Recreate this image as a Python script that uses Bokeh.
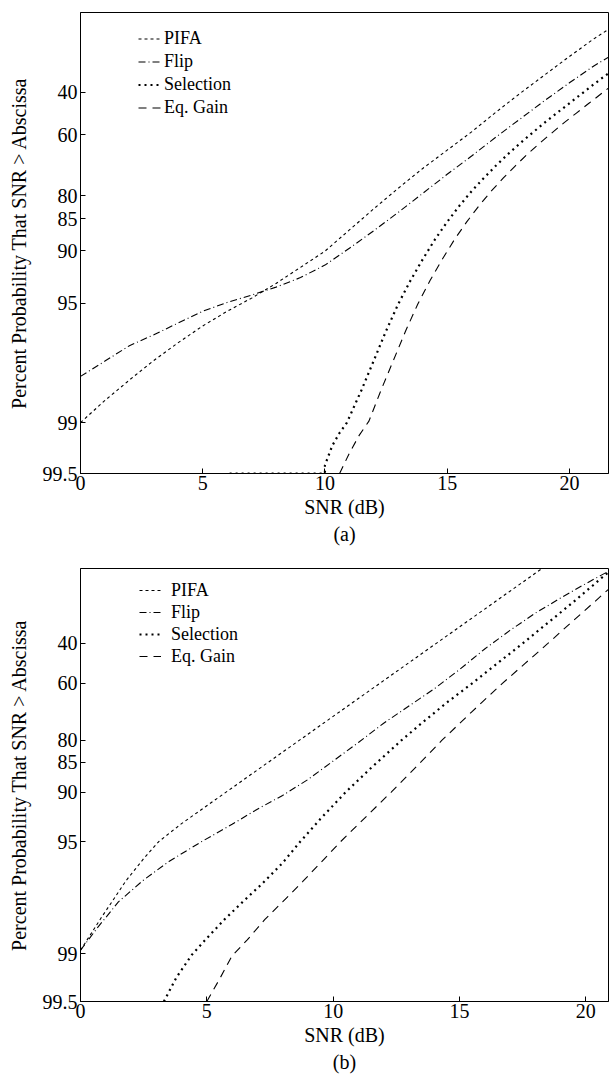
import numpy as np
from bokeh.plotting import figure
from bokeh.models import FixedTicker, Range1d, Legend, LegendItem, Title
from bokeh.layouts import column
from bokeh.embed import file_html
from bokeh.resources import INLINE

FONT = "Liberation Serif"

# ---------------- data ----------------
y_ticks = [40, 60, 80, 85, 90, 95, 99, 99.5]
y_tick_labels = ["40", "60", "80", "85", "90", "95", "99", "99.5"]
x_ticks = [0, 5, 10, 15, 20]
series_names = ["PIFA", "Flip", "Selection", "Eq. Gain"]

# panel (a)
pifa_a_x = [0, 1, 2, 3, 4, 5, 6, 7, 8, 9, 10, 11, 12, 13, 14, 15, 16, 17, 18, 19, 20, 21, 21.8]
pifa_a_p = [99.00, 98.65, 98.22, 97.68, 97.05, 96.31, 95.51, 94.65, 93.50, 91.97, 90.09, 86.98,
            83.00, 78.14, 72.39, 66.05, 58.71, 49.77, 40.46, 31.29, 22.50, 15.01, 10.5]
flip_a_x = [0, 1, 2, 3, 4, 5, 6, 7, 8, 9, 10, 11, 12, 13, 14, 15, 16, 17, 18, 19, 20, 21, 21.8]
flip_a_p = [98.13, 97.70, 97.17, 96.72, 96.16, 95.51, 94.95, 94.43, 93.81, 92.98, 91.73, 89.71,
            87.10, 83.75, 79.46, 74.21, 68.19, 60.86, 52.86, 44.10, 35.32, 26.98, 21.5]
sel_a_x = [6.1, 10.0, 10.0, 10.3, 10.6, 10.9, 11.5, 12.0, 12.5, 13.0, 13.5, 14.0, 14.5, 15.0,
           15.5, 16.0, 16.5, 17.0, 17.5, 18.0, 18.5, 19.0, 19.5, 20.0, 20.5, 21.0, 21.8]
sel_a_p = [99.5, 99.5, 99.44, 99.27, 99.13, 99.00, 98.44, 97.68, 96.55, 95.05, 93.24, 91.08,
           88.47, 85.58, 82.37, 78.91, 75.30, 71.45, 67.40, 63.23, 59.02, 54.52, 50.12, 45.54,
           40.83, 36.05, 28.76]
eq_a_x = [10.6, 11.0, 11.4, 11.8, 12.3, 12.8, 13.3, 13.8, 14.3, 14.8, 15.3, 15.8, 16.3, 16.8,
          17.3, 17.8, 18.3, 18.8, 19.3, 19.8, 20.3, 20.8, 21.3, 21.8]
eq_a_p = [99.50, 99.34, 99.16, 98.98, 98.44, 97.68, 96.55, 95.05, 93.24, 91.08, 88.47, 85.58,
          82.37, 78.91, 75.30, 71.45, 67.40, 63.23, 59.02, 54.52, 50.12, 45.54, 40.83, 36.05]

# panel (b)
pifa_b_x = [0, 0.8, 1.8, 2.5, 3.1, 4, 5, 6, 7, 8, 9, 10, 11, 12, 13, 14, 15, 16, 17, 18, 18.5]
pifa_b_p = [98.95, 98.34, 97.14, 96.08, 95.00, 93.56, 91.73, 89.41, 86.49, 82.84, 78.34, 72.86,
            66.32, 58.71, 50.12, 40.83, 31.29, 22.16, 14.17, 7.93, 5.58]
flip_b_x = [0, 0.65, 1.5, 2.46, 3.5, 4.8, 6, 7, 8, 9, 10, 11, 12, 13, 14, 15, 16, 17, 18, 19,
            20, 20.6, 21]
flip_b_p = [98.95, 98.56, 97.89, 97.14, 96.23, 95.00, 93.62, 92.12, 90.46, 88.14, 84.76, 80.53,
            75.09, 69.21, 62.35, 53.53, 43.01, 33.12, 24.19, 17.07, 11.29, 8.55, 6.97]
sel_b_x = [3.3, 3.8, 4.4, 5.0, 5.7, 6.5, 7.2, 8.0, 8.7, 9.5, 10.5, 11.5, 12.7, 13.5, 14.5,
           15.5, 16.5, 17.5, 18.5, 19.5, 20.3, 21.0]
sel_b_p = [99.50, 99.29, 99.02, 98.75, 98.36, 97.83, 97.25, 96.31, 95.00, 93.11, 90.00, 86.11,
           80.00, 75.09, 67.93, 59.95, 50.46, 40.09, 29.12, 18.91, 11.79, 6.96]
eq_b_x = [5.0, 5.5, 6.0, 6.6, 7.3, 8.0, 8.8, 9.5, 10.3, 11.3, 12.3, 13.3, 14.3, 15.5, 16.7,
          17.6, 18.5, 19.5, 20.3, 21.0]
eq_b_p = [99.50, 99.31, 99.03, 98.78, 98.36, 97.89, 97.17, 96.31, 95.00, 92.91, 90.00, 85.85,
          80.00, 71.21, 59.95, 50.46, 40.09, 28.05, 19.23, 12.55]


def rayleigh(p):
    """Rayleigh probability-paper coordinate: ln(-ln(P))."""
    return np.log(-np.log(np.asarray(p, dtype=float) / 100.0))


STYLES = {
    "PIFA": dict(line_dash="3 3", line_width=1.1),
    "Flip": dict(line_dash="7 3 1 3", line_width=1.1),
    "Selection": dict(line_dash="2 4", line_width=2.2),
    "Eq. Gain": dict(line_dash="8 6", line_width=1.1),
}


def make_panel(data, xmax, height, top, bottom, left, tag, legend_top, pitch,
               glyph_x, glyph_w, standoff):
    p = figure(width=610, height=height, output_backend="svg", toolbar_location=None,
               x_range=Range1d(0, xmax), y_range=Range1d(float(rayleigh(99.5)), 1.0),
               min_border_left=left, min_border_right=2, min_border_top=top,
               min_border_bottom=bottom, title=None)
    p.xgrid.visible = False
    p.ygrid.visible = False
    p.outline_line_color = "black"
    p.outline_line_width = 1
    p.background_fill_color = "white"
    p.border_fill_color = "white"

    renderers = []
    for name, (xs, ps) in zip(series_names, data):
        r = p.line(xs, rayleigh(ps), line_color="black", **STYLES[name])
        renderers.append(r)

    yt = [round(float(v), 6) for v in rayleigh(y_ticks)]
    p.yaxis.ticker = FixedTicker(ticks=yt)
    p.yaxis.major_label_overrides = {v: lab for v, lab in zip(yt, y_tick_labels)}
    p.xaxis.ticker = FixedTicker(ticks=x_ticks)
    for ax in (p.xaxis[0], p.yaxis[0]):
        ax.major_tick_in = 5
        ax.major_tick_out = 0
        ax.minor_tick_in = 0
        ax.minor_tick_out = 0
        ax.axis_line_color = "black"
        ax.major_tick_line_color = "black"
        ax.major_label_text_font = FONT
        ax.major_label_text_font_size = "20px"
        ax.major_label_text_color = "black"
        ax.axis_label_text_font = FONT
        ax.axis_label_text_font_size = "20px"
        ax.axis_label_text_font_style = "normal"
        ax.axis_label_text_color = "black"
    p.xaxis.axis_label = "SNR (dB)"
    p.xaxis.major_label_standoff = 2
    p.xaxis.axis_label_standoff = 3
    p.yaxis.axis_label = "Percent Probability That SNR > Abscissa"
    p.yaxis.major_label_standoff = 3
    p.yaxis.axis_label_standoff = 10

    legend_h = 4 * pitch
    frame_h = height - top - bottom
    legend = Legend(
        items=[LegendItem(label=n, renderers=[r]) for n, r in zip(series_names, renderers)],
        location=(glyph_x, frame_h - legend_top - legend_h),
        padding=0, spacing=0, margin=0,
        label_height=pitch, glyph_height=pitch, glyph_width=glyph_w, label_standoff=standoff,
        label_text_font=FONT, label_text_font_size="18px", label_text_color="black",
        border_line_color=None, background_fill_alpha=0,
    )
    p.add_layout(legend)
    p.add_layout(Title(text=tag, align="center", text_font=FONT, text_font_size="20px",
                       text_font_style="normal", text_color="black", standoff=0), "below")
    return p


data_a = [(pifa_a_x, pifa_a_p), (flip_a_x, flip_a_p), (sel_a_x, sel_a_p), (eq_a_x, eq_a_p)]
data_b = [(pifa_b_x, pifa_b_p), (flip_b_x, flip_b_p), (sel_b_x, sel_b_p), (eq_b_x, eq_b_p)]

pa = make_panel(data_a, 21.6, 555, 12, 82, 80, "(a)", 15, 23, 58, 24, 2)
pb = make_panel(data_b, 20.9, 520, 13, 74, 78, "(b)", 11, 22, 59, 22, 10)

layout = column(pa, pb, spacing=0)
open("out.html", "w").write(file_html(layout, INLINE))
